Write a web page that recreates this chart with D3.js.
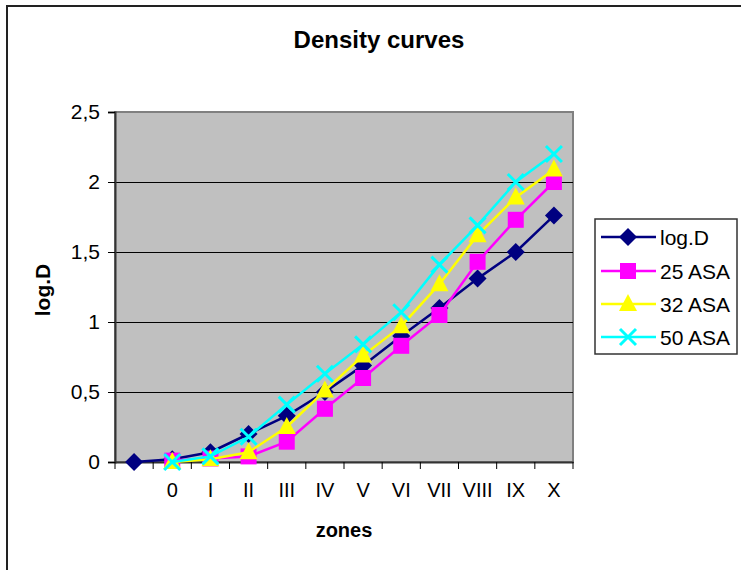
<!DOCTYPE html>
<html><head><meta charset="utf-8">
<script src="https://cdn.jsdelivr.net/npm/d3@7/dist/d3.min.js"></script>
<style>body{margin:0;background:#fff}svg{display:block}text{font-family:"Liberation Sans",Arial,sans-serif}</style>
</head><body>
<script>
const categories = ["", "0", "I", "II", "III", "IV", "V", "VI", "VII", "VIII", "IX", "X"];
const logD   = [0, 0.02, 0.07, 0.2, 0.33, 0.5, 0.69, 0.9, 1.1, 1.31, 1.5, 1.76];
const asa25  = [null, 0.01, 0.025, 0.04, 0.145, 0.38, 0.6, 0.83, 1.05, 1.43, 1.73, 2.0];
const asa32  = [null, 0.0, 0.02, 0.07, 0.25, 0.51, 0.76, 0.97, 1.27, 1.62, 1.89, 2.09];
const asa50  = [null, 0.0, 0.04, 0.18, 0.41, 0.63, 0.84, 1.07, 1.41, 1.69, 2.0, 2.2];
const yTicks = [0, 0.5, 1, 1.5, 2, 2.5];
const seriesNames = ["log.D", "25 ASA", "32 ASA", "50 ASA"];
const seriesColors = ["#000080", "#FF00FF", "#FFFF00", "#00FFFF"];
const seriesShapes = ["diamond", "square", "triangle", "cross"];
const seriesValues = [logD, asa25, asa32, asa50];

const W = 741, H = 570;
const FF = '"Liberation Sans",Arial,sans-serif';
const svg = d3.select("body").append("svg").attr("width", W).attr("height", H);
svg.append("rect").attr("x", 7).attr("y", 6).attr("width", W).attr("height", H)
  .attr("fill", "#fff").attr("stroke", "#222").attr("stroke-width", 2);

const L = 115, R = 573, T = 112, B = 462;
const x = d3.scaleBand().domain(d3.range(categories.length)).range([L, R]);
const y = d3.scaleLinear().domain([0, 2.5]).range([B, T]);

svg.append("rect").attr("x", L).attr("y", T).attr("width", R - L).attr("height", B - T)
  .attr("fill", "#C0C0C0").attr("stroke", "#808080").attr("stroke-width", 2);

// gridlines
svg.append("g").selectAll("line").data(yTicks.filter(d => d > 0 && d < 2.5)).join("line")
  .attr("x1", L).attr("x2", R).attr("y1", d => Math.round(y(d)) + 0.5).attr("y2", d => Math.round(y(d)) + 0.5)
  .attr("stroke", "#000").attr("stroke-width", 1);

// y axis
const yAxis = d3.axisLeft(y).tickValues(yTicks).tickSize(7).tickPadding(8)
  .tickFormat(d => String(d).replace(".", ","));
const ga = svg.append("g").attr("transform", `translate(${L},0)`).call(yAxis);
ga.select(".domain").attr("stroke", "#333").attr("stroke-width", 2);
ga.selectAll(".tick line").attr("stroke", "#000");
ga.selectAll("text").attr("font-size", 21).attr("fill", "#000").style("font-family", FF);

// x axis
const xAxis = d3.axisBottom(x).tickSize(0).tickPadding(21).tickFormat(i => categories[i]);
const gx = svg.append("g").attr("transform", `translate(0,${B})`).call(xAxis);
gx.select(".domain").attr("stroke", "#333").attr("stroke-width", 2);
gx.selectAll("text").attr("font-size", 20).attr("fill", "#000").style("font-family", FF);
// category boundary ticks
svg.append("g").selectAll("line").data(d3.range(categories.length + 1)).join("line")
  .attr("x1", i => i < categories.length ? x(i) : R).attr("x2", i => i < categories.length ? x(i) : R)
  .attr("y1", B).attr("y2", B + 7).attr("stroke", "#000");

function marker(g, shape, color, cx, cy) {
  if (shape === "diamond") {
    g.append("path").attr("d", `M${cx},${cy-9}L${cx+9},${cy}L${cx},${cy+9}L${cx-9},${cy}Z`).attr("fill", color);
  } else if (shape === "square") {
    g.append("rect").attr("x", cx - 8).attr("y", cy - 8).attr("width", 16).attr("height", 16).attr("fill", color);
  } else if (shape === "triangle") {
    g.append("path").attr("d", `M${cx},${cy-10}L${cx+9},${cy+7}L${cx-9},${cy+7}Z`).attr("fill", color);
  } else {
    g.append("path").attr("d", `M${cx-8},${cy-8}L${cx+8},${cy+8}M${cx+8},${cy-8}L${cx-8},${cy+8}`)
      .attr("stroke", color).attr("stroke-width", 3).attr("fill", "none");
  }
}

const line = d3.line().defined(d => d.v !== null).x(d => x(d.i) + x.bandwidth() / 2).y(d => y(d.v));
seriesValues.forEach((vals, s) => {
  const pts = vals.map((v, i) => ({i, v}));
  const g = svg.append("g");
  g.append("path").attr("d", line(pts)).attr("fill", "none").attr("stroke", seriesColors[s]).attr("stroke-width", 2.5);
  pts.filter(p => p.v !== null).forEach(p => marker(g, seriesShapes[s], seriesColors[s], x(p.i) + x.bandwidth() / 2, y(p.v)));
});

// titles
svg.append("text").attr("x", 379).attr("y", 48).attr("text-anchor", "middle")
  .attr("font-size", 24).attr("font-weight", "bold").text("Density curves");
svg.append("text").attr("x", 344).attr("y", 537).attr("text-anchor", "middle")
  .attr("font-size", 20).attr("font-weight", "bold").text("zones");
svg.append("text").attr("transform", "translate(50,290) rotate(-90)").attr("text-anchor", "middle")
  .attr("font-size", 21).attr("font-weight", "bold").text("log.D");

// legend
const lg = svg.append("g");
lg.append("rect").attr("x", 595).attr("y", 219).attr("width", 142).attr("height", 135)
  .attr("fill", "#fff").attr("stroke", "#333").attr("stroke-width", 1.5);
const ly = [237, 271, 304, 337];
seriesNames.forEach((n, s) => {
  lg.append("line").attr("x1", 601).attr("x2", 656).attr("y1", ly[s]).attr("y2", ly[s])
    .attr("stroke", seriesColors[s]).attr("stroke-width", 2.5);
  marker(lg, seriesShapes[s], seriesColors[s], 628, ly[s]);
  lg.append("text").attr("x", 660).attr("y", ly[s] + 7.5).attr("font-size", 21).text(n);
});
</script>
</body></html>
